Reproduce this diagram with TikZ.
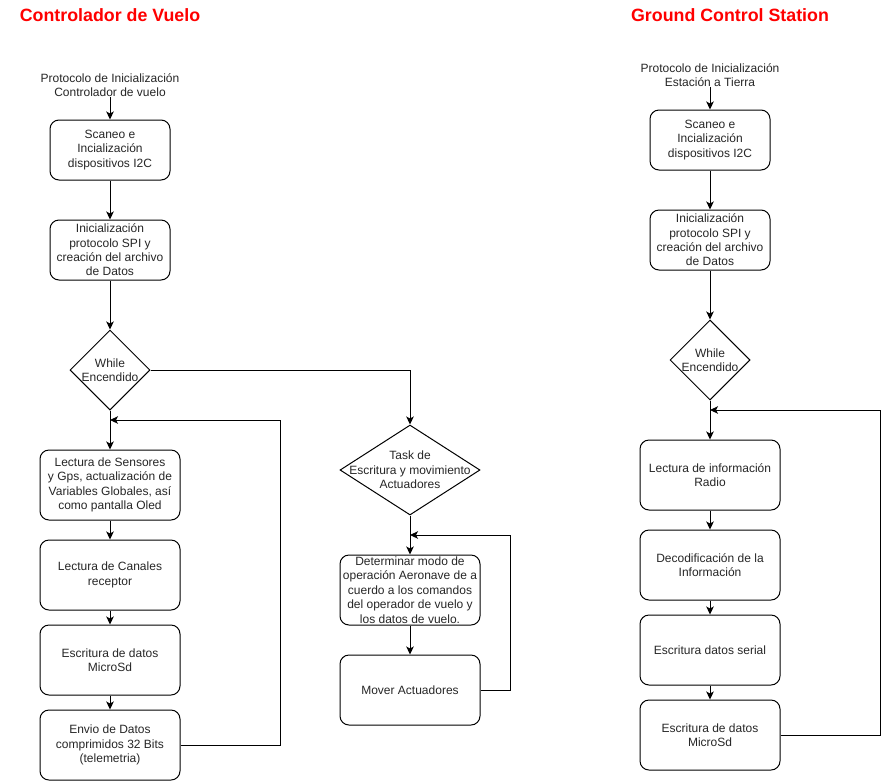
\documentclass[tikz,border=0pt]{standalone}
\usepackage{fontspec}
\setmainfont{Liberation Sans}
\usetikzlibrary{shapes.geometric,arrows.meta}
\definecolor{titlered}{HTML}{FF0000}
\begin{document}
\begin{tikzpicture}[x=1pt,y=-1pt,
  every node/.style={font=\fontsize{12}{14.4}\selectfont, text=black!85},
  box/.style={draw=black, line width=1pt, rounded corners=9pt, align=center, inner sep=0pt},
  dia/.style={draw=black, line width=1pt, shape=diamond, inner sep=0pt, aspect=1},
  lbl/.style={align=center, inner sep=0pt},
  ttl/.style={font=\fontsize{17.8}{20}\selectfont\bfseries, text=titlered, inner sep=0pt},
  arr/.style={draw=black, line width=1pt, -{Stealth[length=8pt,width=7.5pt,inset=2pt]}},
  ln/.style={draw=black, line width=1pt}]
\useasboundingbox (0,0) rectangle (890,782);

% Titles
\node[ttl] (tL) at (110,15) {Controlador de Vuelo};
\node[ttl] (tR) at (730,15) {Ground Control Station};

% ---------- Left column ----------
\node[lbl] (iL) at (110,85) {Protocolo de Inicialización\\Controlador de vuelo};
\node[box, minimum width=120pt, minimum height=60pt] (L1) at (110,150) {Scaneo e\\Incialización\\dispositivos I2C};
\node[box, minimum width=120pt, minimum height=60pt] (L2) at (110,250) {Inicialización\\protocolo SPI y\\creación del archivo\\de Datos};
\node[dia, minimum width=80pt, minimum height=80pt] (LD) at (110,370) {};
\node[lbl] (LDt) at (110,370) {While\\Encendido};
\node[box, minimum width=140pt, minimum height=70pt] (L3) at (110,485) {Lectura de Sensores\\y Gps, actualización de\\Variables Globales, así\\como pantalla Oled};
\node[box, minimum width=140pt, minimum height=70pt] (L4) at (110,575) {Lectura de Canales\\receptor};
\node[box, minimum width=140pt, minimum height=70pt] (L5) at (110,660) {Escritura de datos\\MicroSd};
\node[box, minimum width=140pt, minimum height=70pt] (L6) at (110,745) {Envio de Datos\\comprimidos 32 Bits\\(telemetria)};
\coordinate (jL) at (110,420);
\coordinate (cL) at (280,420);

\draw[arr] (iL.south) -- (L1.north);
\draw[arr] (L1.south) -- (L2.north);
\draw[arr] (L2.south) -- (LD.north);
\draw[arr] (LD.south) -- (L3.north);
\draw[arr] (L3.south) -- (L4.north);
\draw[arr] (L4.south) -- (L5.north);
\draw[arr] (L5.south) -- (L6.north);
\draw[arr] (L6.east) -| (cL) -- (jL);

% ---------- Middle column ----------
\node[dia, minimum width=140pt, minimum height=90pt, aspect=1.556] (MD) at (410,470) {};
\node[lbl] (MDt) at (410,470) {Task de\\Escritura y movimiento\\Actuadores};
\node[box, minimum width=140pt, minimum height=70pt] (M1) at (410,590) {Determinar modo de\\operación Aeronave de a\\cuerdo a los comandos\\del operador de vuelo y\\los datos de vuelo.};
\node[box, minimum width=140pt, minimum height=70pt] (M2) at (410,690) {Mover Actuadores};
\coordinate (jM) at (410,535);
\coordinate (cM) at (510,535);

\draw[arr] (LD.east) -| (MD.north);
\draw[arr] (MD.south) -- (M1.north);
\draw[arr] (M1.south) -- (M2.north);
\draw[arr] (M2.east) -| (cM) -- (jM);

% ---------- Right column ----------
\node[lbl] (iR) at (710,75) {Protocolo de Inicialización\\Estación a Tierra};
\node[box, minimum width=120pt, minimum height=60pt] (R1) at (710,140) {Scaneo e\\Incialización\\dispositivos I2C};
\node[box, minimum width=120pt, minimum height=60pt] (R2) at (710,240) {Inicialización\\protocolo SPI y\\creación del archivo\\de Datos};
\node[dia, minimum width=80pt, minimum height=80pt] (RD) at (710,360) {};
\node[lbl] (RDt) at (710,360) {While\\Encendido};
\node[box, minimum width=140pt, minimum height=70pt] (R3) at (710,475) {Lectura de información\\Radio};
\node[box, minimum width=140pt, minimum height=70pt] (R4) at (710,565) {Decodificación de la\\Información};
\node[box, minimum width=140pt, minimum height=70pt] (R5) at (710,650) {Escritura datos serial};
\node[box, minimum width=140pt, minimum height=70pt] (R6) at (710,735) {Escritura de datos\\MicroSd};
\coordinate (jR) at (710,410);
\coordinate (cR) at (880,410);

\draw[arr] (iR.south) -- (R1.north);
\draw[arr] (R1.south) -- (R2.north);
\draw[arr] (R2.south) -- (RD.north);
\draw[arr] (RD.south) -- (R3.north);
\draw[arr] (R3.south) -- (R4.north);
\draw[arr] (R4.south) -- (R5.north);
\draw[arr] (R5.south) -- (R6.north);
\draw[arr] (R6.east) -| (cR) -- (jR);
\end{tikzpicture}
\end{document}
